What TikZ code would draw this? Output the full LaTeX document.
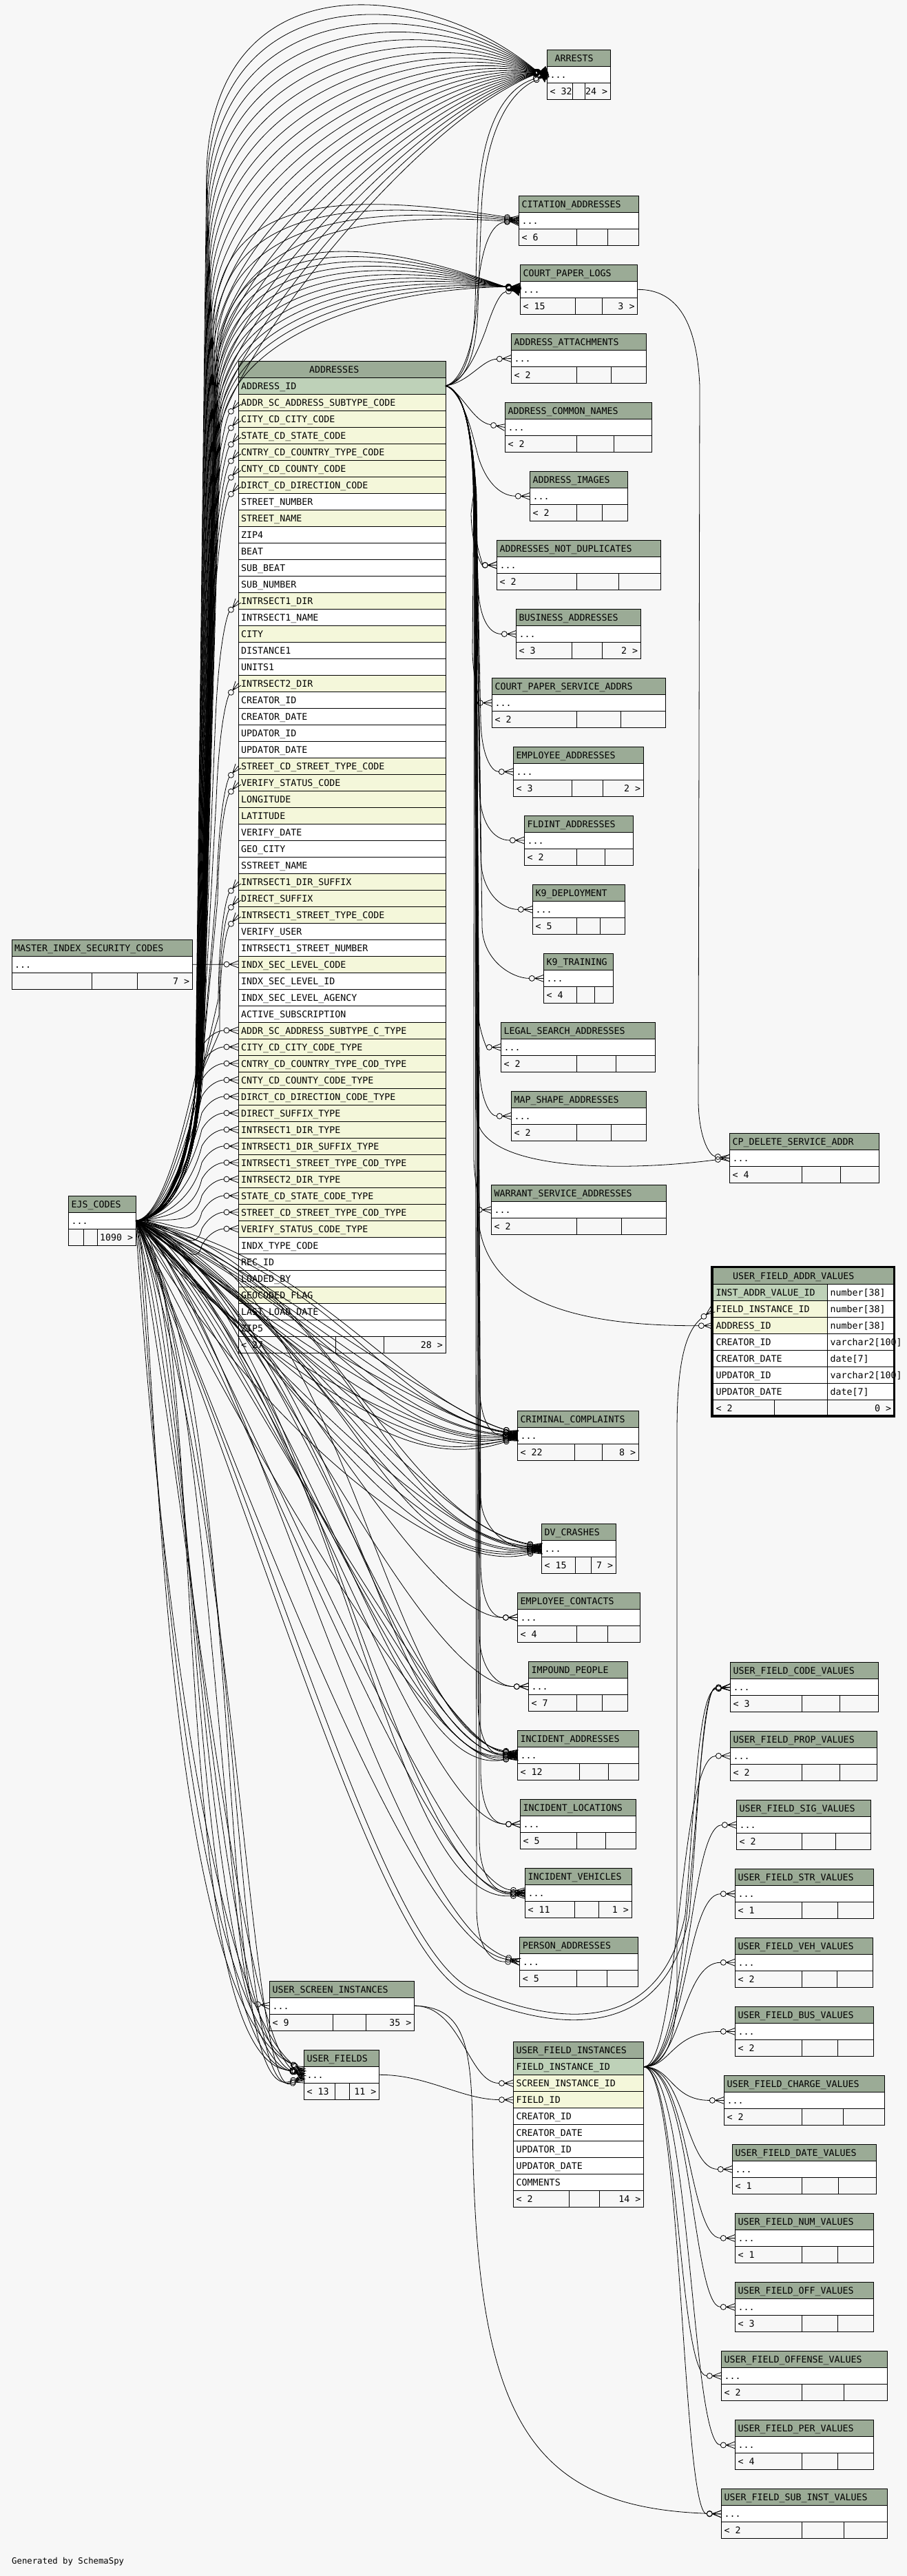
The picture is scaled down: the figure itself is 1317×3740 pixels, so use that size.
\documentclass[tikz,border=0pt]{standalone}
\usepackage{fontspec}
\newfontfamily\dm{DejaVu Sans Mono}
\usetikzlibrary{arrows.meta}
\definecolor{bgc}{HTML}{F7F7F7}
\definecolor{hdr}{HTML}{9BAB96}
\definecolor{pk}{HTML}{BED1B8}
\definecolor{idx}{HTML}{F4F7DA}
\pgfdeclarearrow{
  name = CrowO,
  setup code = {
    \pgfarrowssettipend{0pt}
    \pgfarrowssetlineend{-21pt}
    \pgfarrowssetbackend{-21pt}
    \pgfarrowssetvisualbackend{-21pt}
    \pgfarrowshullpoint{0pt}{5pt}
    \pgfarrowshullpoint{0pt}{-5pt}
    \pgfarrowshullpoint{-21pt}{0pt}
  },
  drawing code = {
    \pgfsetdash{}{0pt}
    \pgfpathmoveto{\pgfqpoint{-13pt}{0pt}}
    \pgfpathlineto{\pgfqpoint{0pt}{5pt}}
    \pgfpathmoveto{\pgfqpoint{-13pt}{0pt}}
    \pgfpathlineto{\pgfqpoint{0pt}{0pt}}
    \pgfpathmoveto{\pgfqpoint{-13pt}{0pt}}
    \pgfpathlineto{\pgfqpoint{0pt}{-5pt}}
    \pgfusepathqstroke
    \pgfpathcircle{\pgfqpoint{-17pt}{0pt}}{4pt}
    \pgfusepathqstroke
  }
}
\tikzset{
  cell/.style={draw=black, line width=1pt, inner sep=0pt, outer sep=0pt, minimum height=24pt, anchor=north west},
  txt/.style={anchor=base west, inner sep=0pt, font=\dm\fontsize{13.3}{16}\selectfont},
  txtr/.style={txt, anchor=base east},
  fk/.style={line width=0.8pt, -{CrowO[]}},
}
% name, left, top, right, div1, div2, title, footer-left, footer-right
\newcommand\mktab[9]{%
  \node[cell, fill=hdr, minimum width={(#4-#2)*1pt}] (#1-h) at (#2,#3) {};
  \node[cell, fill=white, minimum width={(#4-#2)*1pt}] (#1) at (#2,#3+24) {};
  \node[cell, fill=bgc, minimum width={(#5-#2)*1pt}] (#1-fa) at (#2,#3+48) {};
  \node[cell, fill=bgc, minimum width={(#6-#5)*1pt}] (#1-fb) at (#5,#3+48) {};
  \node[cell, fill=bgc, minimum width={(#4-#6)*1pt}] (#1-fc) at (#6,#3+48) {};
  \node[txt] (#1-t) at (#2+4,#3+17) {#7};
  \node[txt] (#1-d) at (#2+4,#3+41) {...};
  \node[txt] (#1-l) at (#2+4,#3+65) {#8};
  \node[txtr] (#1-r) at (#4-4,#3+65) {#9};
}
\begin{document}
\begin{tikzpicture}[x=1pt,y=-1pt]
\useasboundingbox (0,0) rectangle (1317,3740);
\fill[bgc] (0,0) rectangle (1317,3740);

% ---------------- small tables ----------------
\mktab{arrests}{794.3}{72.3}{886.3}{831.7}{849.3}{\hspace*{7pt}ARRESTS}{< 32}{24 >}
\mktab{cit}{753.3}{284.3}{927.7}{837.3}{882.7}{CITATION\_ADDRESSES}{< 6}{}
\mktab{cpl}{755.3}{384.3}{925.7}{835.7}{874.3}{COURT\_PAPER\_LOGS}{< 15}{3 >}
\mktab{att}{742.3}{484.5}{938.3}{837.3}{887.3}{ADDRESS\_ATTACHMENTS}{< 2}{}
\mktab{acn}{733.3}{584.5}{946.3}{837.3}{891.3}{ADDRESS\_COMMON\_NAMES}{< 2}{}
\mktab{aim}{769.3}{684.5}{911.3}{837.3}{874.3}{ADDRESS\_IMAGES}{< 2}{}
\mktab{ndup}{721.3}{784.5}{959.3}{837.3}{898.3}{ADDRESSES\_NOT\_DUPLICATES}{< 2}{}
\mktab{bus}{749.3}{884.5}{930.3}{830.3}{874.3}{BUSINESS\_ADDRESSES}{< 3}{2 >}
\mktab{cpsa}{714.3}{984.5}{966.3}{837.3}{901.3}{COURT\_PAPER\_SERVICE\_ADDRS}{< 2}{}
\mktab{ead}{745.3}{1084.5}{934.3}{830.3}{875.3}{EMPLOYEE\_ADDRESSES}{< 3}{2 >}
\mktab{fld}{761.3}{1184}{919.3}{837.3}{878.7}{FLDINT\_ADDRESSES}{< 2}{}
\mktab{kd}{773.3}{1284.4}{907.3}{837.3}{871.3}{K9\_DEPLOYMENT}{< 5}{}
\mktab{kt}{789.3}{1384.4}{890.3}{837.3}{863.3}{K9\_TRAINING}{< 4}{}
\mktab{lsa}{727.3}{1484.4}{951.3}{837.3}{894.3}{LEGAL\_SEARCH\_ADDRESSES}{< 2}{}
\mktab{msa}{742.3}{1584.4}{938.3}{837.3}{887.3}{MAP\_SHAPE\_ADDRESSES}{< 2}{}
\mktab{wsa}{713.3}{1720.5}{967.3}{837.3}{902.3}{WARRANT\_SERVICE\_ADDRESSES}{< 2}{}
\mktab{cpd}{1059.3}{1645.3}{1276.3}{1164.3}{1220.3}{CP\_DELETE\_SERVICE\_ADDR}{< 4}{}
\mktab{mis}{17}{1364.3}{279.3}{133.3}{199.3}{MASTER\_INDEX\_SECURITY\_CODES}{}{7 >}
\mktab{ejs}{99.3}{1736.3}{197.3}{121.3}{141.3}{EJS\_CODES}{}{1090 >}
\mktab{cc}{751.4}{2048.4}{927.3}{834.3}{874.3}{CRIMINAL\_COMPLAINTS}{< 22}{8 >}
\mktab{dv}{786.5}{2212.3}{894.3}{835.5}{858.8}{DV\_CRASHES}{< 15}{7 >}
\mktab{ec}{751.4}{2312.4}{929.4}{837.6}{882.4}{EMPLOYEE\_CONTACTS}{< 4}{}
\mktab{ip}{767.3}{2412.6}{911}{837.6}{874.3}{IMPOUND\_PEOPLE}{< 7}{}
\mktab{ia}{751.4}{2512.2}{927.3}{841.2}{883.7}{INCIDENT\_ADDRESSES}{< 12}{}
\mktab{il}{755.5}{2612.4}{923.3}{837.6}{879.6}{INCIDENT\_LOCATIONS}{< 5}{}
\mktab{iv}{762.4}{2712.6}{917.1}{834.3}{869.4}{INCIDENT\_VEHICLES}{< 11}{1 >}
\mktab{pa}{754.7}{2812.2}{926.5}{837.5}{881.5}{PERSON\_ADDRESSES}{< 5}{}
\mktab{usi}{391.3}{2876}{601.5}{483.3}{531.3}{USER\_SCREEN\_INSTANCES}{< 9}{35 >}
\mktab{uf}{441.5}{2976.3}{550.5}{486.5}{507.6}{USER\_FIELDS}{< 13}{11 >}
\mktab{vcode}{1060.4}{2413.7}{1275.1}{1164.5}{1219.2}{USER\_FIELD\_CODE\_VALUES}{< 3}{}
\mktab{vprop}{1060.4}{2513.3}{1273}{1164.5}{1219.2}{USER\_FIELD\_PROP\_VALUES}{< 2}{}
\mktab{vsig}{1069.4}{2613.5}{1264.1}{1164.5}{1213.5}{USER\_FIELD\_SIG\_VALUES}{< 2}{}
\mktab{vstr}{1067.3}{2713.6}{1268.2}{1164.5}{1216.3}{USER\_FIELD\_STR\_VALUES}{< 1}{}
\mktab{vveh}{1067.3}{2813.2}{1267.3}{1164.3}{1215.3}{USER\_FIELD\_VEH\_VALUES}{< 2}{}
\mktab{vbus}{1067.3}{2913.4}{1268.3}{1164.3}{1216.7}{USER\_FIELD\_BUS\_VALUES}{< 2}{}
\mktab{vchg}{1051.3}{3013.4}{1284.3}{1164.3}{1224.3}{USER\_FIELD\_CHARGE\_VALUES}{< 2}{}
\mktab{vdate}{1063.3}{3113.4}{1272.3}{1164.3}{1217.7}{USER\_FIELD\_DATE\_VALUES}{< 1}{}
\mktab{vnum}{1067.3}{3213.4}{1268.3}{1164.3}{1216.7}{USER\_FIELD\_NUM\_VALUES}{< 1}{}
\mktab{voff}{1067.3}{3313.4}{1268.3}{1164.3}{1216.7}{USER\_FIELD\_OFF\_VALUES}{< 3}{}
\mktab{vofn}{1047.3}{3413.4}{1288.3}{1164.3}{1225.3}{USER\_FIELD\_OFFENSE\_VALUES}{< 2}{}
\mktab{vper}{1067.3}{3513.9}{1268.3}{1164.3}{1216.7}{USER\_FIELD\_PER\_VALUES}{< 4}{}
\mktab{vsub}{1047.3}{3613.9}{1288.3}{1164.3}{1225.3}{USER\_FIELD\_SUB\_INST\_VALUES}{< 2}{}

% ---------------- ADDRESSES ----------------
\node[cell, fill=hdr, minimum width=301pt] (addr-h) at (346,524) {};
\node[txt] (addr-t) at (449,541) {ADDRESSES};
\foreach \i/\txt/\c in {
 0/ADDRESS\_ID/pk, 1/ADDR\_SC\_ADDRESS\_SUBTYPE\_CODE/idx, 2/CITY\_CD\_CITY\_CODE/idx,
 3/STATE\_CD\_STATE\_CODE/idx, 4/CNTRY\_CD\_COUNTRY\_TYPE\_CODE/idx, 5/CNTY\_CD\_COUNTY\_CODE/idx,
 6/DIRCT\_CD\_DIRECTION\_CODE/idx, 7/STREET\_NUMBER/white, 8/STREET\_NAME/idx, 9/ZIP4/white,
 10/BEAT/white, 11/SUB\_BEAT/white, 12/SUB\_NUMBER/white, 13/INTRSECT1\_DIR/idx,
 14/INTRSECT1\_NAME/white, 15/CITY/idx, 16/DISTANCE1/white, 17/UNITS1/white,
 18/INTRSECT2\_DIR/idx, 19/CREATOR\_ID/white, 20/CREATOR\_DATE/white, 21/UPDATOR\_ID/white,
 22/UPDATOR\_DATE/white, 23/STREET\_CD\_STREET\_TYPE\_CODE/idx, 24/VERIFY\_STATUS\_CODE/idx,
 25/LONGITUDE/idx, 26/LATITUDE/idx, 27/VERIFY\_DATE/white, 28/GEO\_CITY/white,
 29/SSTREET\_NAME/white, 30/INTRSECT1\_DIR\_SUFFIX/idx, 31/DIRECT\_SUFFIX/idx,
 32/INTRSECT1\_STREET\_TYPE\_CODE/idx, 33/VERIFY\_USER/white, 34/INTRSECT1\_STREET\_NUMBER/white,
 35/INDX\_SEC\_LEVEL\_CODE/idx, 36/INDX\_SEC\_LEVEL\_ID/white, 37/INDX\_SEC\_LEVEL\_AGENCY/white,
 38/ACTIVE\_SUBSCRIPTION/white, 39/ADDR\_SC\_ADDRESS\_SUBTYPE\_C\_TYPE/idx,
 40/CITY\_CD\_CITY\_CODE\_TYPE/idx, 41/CNTRY\_CD\_COUNTRY\_TYPE\_COD\_TYPE/idx,
 42/CNTY\_CD\_COUNTY\_CODE\_TYPE/idx, 43/DIRCT\_CD\_DIRECTION\_CODE\_TYPE/idx,
 44/DIRECT\_SUFFIX\_TYPE/idx, 45/INTRSECT1\_DIR\_TYPE/idx, 46/INTRSECT1\_DIR\_SUFFIX\_TYPE/idx,
 47/INTRSECT1\_STREET\_TYPE\_COD\_TYPE/idx, 48/INTRSECT2\_DIR\_TYPE/idx,
 49/STATE\_CD\_STATE\_CODE\_TYPE/idx, 50/STREET\_CD\_STREET\_TYPE\_COD\_TYPE/idx,
 51/VERIFY\_STATUS\_CODE\_TYPE/idx, 52/INDX\_TYPE\_CODE/white, 53/REC\_ID/white,
 54/LOADED\_BY/white, 55/GEOCODED\_FLAG/idx, 56/LAST\_LOAD\_DATE/white, 57/ZIP5/white}{
  \node[cell, fill=\c, minimum width=301pt] (a\i) at (346,548+24*\i) {};
  \node[txt] at (350,565+24*\i) {\txt};
}
\node[cell, fill=bgc, minimum width=141pt] (addr-fa) at (346,1940) {};
\node[cell, fill=bgc, minimum width=70pt] (addr-fb) at (487,1940) {};
\node[cell, fill=bgc, minimum width=90pt] (addr-fc) at (557,1940) {};
\node[txt] (addr-l) at (350,1957) {< 27};
\node[txtr] (addr-r) at (643,1957) {28 >};

% ---------------- USER_FIELD_INSTANCES ----------------
\node[cell, fill=hdr, minimum width=189pt] (ufi-h) at (745.5,2964.7) {};
\node[txt] (ufi-t) at (749.5,2981.7) {USER\_FIELD\_INSTANCES};
\foreach \i/\txt/\c in {0/FIELD\_INSTANCE\_ID/pk, 1/SCREEN\_INSTANCE\_ID/idx, 2/FIELD\_ID/idx,
  3/CREATOR\_ID/white, 4/CREATOR\_DATE/white, 5/UPDATOR\_ID/white, 6/UPDATOR\_DATE/white, 7/COMMENTS/white}{
  \node[cell, fill=\c, minimum width=189pt] (ufi\i) at (745.5,2988.7+24*\i) {};
  \node[txt] at (749.5,3005.7+24*\i) {\txt};
}
\node[cell, fill=bgc, minimum width=81pt] (ufi-fa) at (745.5,3180.7) {};
\node[cell, fill=bgc, minimum width=44.4pt] (ufi-fb) at (826.5,3180.7) {};
\node[cell, fill=bgc, minimum width=63.6pt] (ufi-fc) at (870.9,3180.7) {};
\node[txt] (ufi-l) at (749.5,3197.7) {< 2};
\node[txtr] (ufi-r) at (930.5,3197.7) {14 >};

% ---------------- USER_FIELD_ADDR_VALUES ----------------
\node[cell, fill=hdr, minimum width=263pt] (ufav-h) at (1035.3,1840.7) {};
\node[txt] (ufav-t) at (1064,1857.7) {USER\_FIELD\_ADDR\_VALUES};
\foreach \i/\txt/\ty/\c in {0/INST\_ADDR\_VALUE\_ID/number[38]/pk, 1/FIELD\_INSTANCE\_ID/number[38]/idx,
  2/ADDRESS\_ID/number[38]/idx, 3/CREATOR\_ID/varchar2[100]/white, 4/CREATOR\_DATE/date[7]/white,
  5/UPDATOR\_ID/varchar2[100]/white, 6/UPDATOR\_DATE/date[7]/white}{
  \node[cell, fill=\c, minimum width=166pt] (ufav\i) at (1035.3,1864.7+24*\i) {};
  \node[cell, fill=white, minimum width=97pt] (ufavt\i) at (1201.3,1864.7+24*\i) {};
  \node[txt] at (1039.3,1881.7+24*\i) {\txt};
  \node[txt] at (1205.3,1881.7+24*\i) {\ty};
}
\node[cell, fill=bgc, minimum width=89pt] (ufav-fa) at (1035.3,2032.7) {};
\node[cell, fill=bgc, minimum width=77pt] (ufav-fb) at (1124.3,2032.7) {};
\node[cell, fill=bgc, minimum width=97pt] (ufav-fc) at (1201.3,2032.7) {};
\node[txt] (ufav-l) at (1039.3,2049.7) {< 2};
\node[txtr] (ufav-r) at (1294.3,2049.7) {0 >};
\draw[line width=3.5pt] (1033.4,1839.7) rectangle (1298.6,2055.8);

\node[txt, font=\dm\fontsize{12.3}{14}\selectfont] (gen) at (17,3722) {Generated by SchemaSpy};

% ================= CONNECTORS =================
% EJS_CODES -> ARRESTS (arcs over the top)
\foreach \k in {0,...,21}{
  \pgfmathsetmacro\tq{\k/21}
  \pgfmathsetmacro\ex{240+25*\tq}
  \pgfmathsetmacro\ey{1700-120*\tq}
  \pgfmathsetmacro\tx{284+8*\tq}
  \pgfmathsetmacro\ty{1560-60*\tq}
  \pgfmathsetmacro\ux{\tx-4}
  \pgfmathsetmacro\sx{300+14*\tq}
  \pgfmathsetmacro\sy{245+395*\tq}
  \pgfmathsetmacro\ax{312+20*\tq}
  \pgfmathsetmacro\ay{-60+580*\tq}
  \pgfmathsetmacro\bx{620-20*\tq}
  \pgfmathsetmacro\by{-30+210*\tq}
  \pgfmathsetmacro\sh{(\k-10.5)*0.7}
  \draw[fk] (ejs.east) .. controls (\ex,1770) and (\ux,\ey) .. (\tx,\ty) -- (\sx,\sy) .. controls (\ax,\ay) and (\bx,\by) .. ([yshift=\sh pt]arrests.west);
}
% EJS_CODES -> CITATION_ADDRESSES
\foreach \k in {0,...,3}{
  \pgfmathsetmacro\tq{\k/3}
  \pgfmathsetmacro\tx{290+6*\tq}
  \pgfmathsetmacro\sx{310+6*\tq}
  \pgfmathsetmacro\sy{470+60*\tq}
  \pgfmathsetmacro\ax{318+6*\tq}
  \pgfmathsetmacro\ay{290+60*\tq}
  \pgfmathsetmacro\bx{480+30*\tq}
  \pgfmathsetmacro\by{275+30*\tq}
  \pgfmathsetmacro\sh{(1.5-\k)*1.5}
  \draw[fk] (ejs.east) .. controls (248,1768) and (286,1690) .. (\tx,1545) -- (\sx,\sy) .. controls (\ax,\ay) and (\bx,\by) .. ([yshift=\sh pt]cit.west);
}
% EJS_CODES -> COURT_PAPER_LOGS
\foreach \k in {0,...,11}{
  \pgfmathsetmacro\tq{\k/11}
  \pgfmathsetmacro\tx{288+6*\tq}
  \pgfmathsetmacro\sx{312+8*\tq}
  \pgfmathsetmacro\sy{540+90*\tq}
  \pgfmathsetmacro\ax{325+5*\tq}
  \pgfmathsetmacro\ay{340+150*\tq}
  \pgfmathsetmacro\bx{500+40*\tq}
  \pgfmathsetmacro\by{330+90*\tq}
  \pgfmathsetmacro\sh{(\k-5.5)*0.8}
  \draw[fk] (ejs.east) .. controls (246,1768) and (284,1700) .. (\tx,1550) -- (\sx,\sy) .. controls (\ax,\ay) and (\bx,\by) .. ([yshift=\sh pt]cpl.west);
}
% EJS_CODES -> ADDRESSES code columns (upper group)
\foreach \i [count=\n] in {1,2,3,4,5,6,13,18,23,24,30,31,32}{
  \pgfmathsetmacro\Y{560+24*\i}
  \pgfmathsetmacro\xa{306+\n}
  \pgfmathsetmacro\ya{\Y+170}
  \pgfmathsetmacro\yb{\Y+60}
  \pgfmathsetmacro\yc{\Y+20}
  \draw[fk] (ejs.east) .. controls (250,1768) and (286,1700) .. (292,1560) -- (\xa,\ya) .. controls (318,\yb) and (330,\yc) .. (a\i.west);
}
% EJS_CODES -> ADDRESSES *_TYPE columns
\foreach \i in {39,...,51}{
  \pgfmathsetmacro\Y{560+24*\i}
  \pgfmathsetmacro\ya{\Y+70}
  \pgfmathsetmacro\yb{\Y+24}
  \pgfmathsetmacro\yc{\Y+6}
  \draw[fk] (ejs.east) .. controls (245,1768) and (282,\ya) .. (293,\yb) .. controls (303,\yc) and (318,\Y) .. (a\i.west);
}
% MASTER_INDEX_SECURITY_CODES -> ADDRESSES
\draw[fk] (mis.east) -- (a35.west);

% EJS_CODES -> tables below (spread fans)
\foreach \T/\n/\s/\Y/\o in {cc/14/60/2084.4/3, dv/10/48/2248.3/11, ia/9/38/2548.2/23, iv/4/14/2748.6/41}{
  \foreach \k in {1,...,\n}{
    \pgfmathsetmacro\tq{(\k-1)/(\n-1)}
    \pgfmathsetmacro\rr{mod(\k*61+\o,100)/100}
    \pgfmathsetmacro\ax{250+300*\rr}
    \pgfmathsetmacro\ay{1772+200*\tq+60*\rr}
    \pgfmathsetmacro\bx{540+90*(1-\rr)}
    \pgfmathsetmacro\by{\Y-\s+2*\s*\tq}
    \pgfmathsetmacro\sh{(0.5-\tq)*6}
    \draw[fk] (ejs.east) .. controls (\ax,\ay) and (\bx,\by) .. ([yshift=\sh pt]\T.west);
  }
}
\foreach \T/\Y in {ec/2348.4, ip/2448.6, il/2648.4}{
  \draw[fk] (ejs.east) .. controls (360,1840) and (600,\Y) .. (\T.west);
}
\draw[fk] (ejs.east) .. controls (350,1900) and (560,2780) .. (pa.west);
\draw[fk] (ejs.east) .. controls (300,1990) and (580,2815) .. (pa.west);
% EJS_CODES -> USER_FIELDS
\foreach \k in {0,...,10}{
  \pgfmathsetmacro\tq{\k/10}
  \pgfmathsetmacro\rr{mod(\k*47+13,100)/100}
  \pgfmathsetmacro\ax{205+170*\rr}
  \pgfmathsetmacro\ay{1800+380*\tq}
  \pgfmathsetmacro\bx{220+140*\tq}
  \pgfmathsetmacro\by{2870+210*\rr}
  \pgfmathsetmacro\sh{(5-\k)*1.4}
  \draw[fk] (ejs.east) .. controls (\ax,\ay) and (\bx,\by) .. ([yshift=\sh pt]uf.west);
}
\draw[fk] (ejs.east) .. controls (300,1900) and (330,2905) .. (usi.west);
% EJS_CODES -> USER_FIELD_CODE_VALUES
\draw[fk] (ejs.east) .. controls (420,2300) and (560,2840) .. (690,2890) .. controls (820,2945) and (960,2950) .. (995,2780) .. controls (1010,2600) and (1015,2455) .. (vcode.west);
\draw[fk] (ejs.east) .. controls (410,2310) and (555,2850) .. (686,2898) .. controls (820,2955) and (968,2958) .. (1001,2780) .. controls (1016,2600) and (1020,2452) .. (vcode.west);

% ADDRESSES.ADDRESS_ID -> children
\draw[fk] (a0.east) .. controls (670,555) and (688,520) .. (690,440) -- (694,300) .. controls (698,180) and (735,128) .. (arrests.west);
\draw[fk] (a0.east) .. controls (672,556) and (692,525) .. (694,445) -- (699,305) .. controls (704,190) and (740,135) .. (arrests.west);
\draw[fk] (a0.east) .. controls (670,555) and (690,500) .. (693,430) .. controls (697,370) and (710,325) .. (cit.west);
\draw[fk] (a0.east) .. controls (672,555) and (690,520) .. (705,480) .. controls (715,450) and (725,425) .. (cpl.west);
\draw[fk] (a0.east) .. controls (680,556) and (700,522) .. (att.west);
\draw[fk] (a0.east) .. controls (672,570) and (686,612) .. (acn.west);
\draw[fk] (a0.east) .. controls (674,570) and (688,640) .. (695,665) .. controls (708,705) and (730,720) .. (aim.west);
\foreach \T/\X/\Y/\dd in {ndup/721.3/820.5/-6, ndup/721.3/820.5/-2, bus/749.3/920.5/4, cpsa/714.3/1020.5/-4,
  ead/745.3/1120.5/8, fld/761.3/1220/6, kd/773.3/1320.4/8, kt/789.3/1420.4/10, lsa/727.3/1520.4/2,
  msa/742.3/1620.4/6, wsa/713.3/1756.5/-2, cc/751.4/2084.4/6, dv/786.5/2248.3/8, ec/751.4/2348.4/8,
  ip/767.3/2448.6/6, ia/751.4/2548.2/4, il/755.5/2648.4/8, iv/762.4/2748.6/6, pa/754.7/2848.2/2}{
  \pgfmathsetmacro\xa{689+0.3*\dd}
  \pgfmathsetmacro\xb{690+\dd}
  \pgfmathsetmacro\xc{691+\dd}
  \pgfmathsetmacro\ya{\Y-75}
  \pgfmathsetmacro\yb{\Y-25}
  \pgfmathsetmacro\cx{max(\X-45,\dd+705)}
  \draw[fk] (a0.east) .. controls (672,566) and (686,620) .. (\xa,720) -- (\xb,\ya) .. controls (\xc,\yb) and (\cx,\Y) .. (\T.west);
}
\draw[fk] (a0.east) .. controls (672,566) and (686,620) .. (688,720) -- (692,1620) .. controls (696,1700) and (900,1702) .. (cpd.west);
\draw[fk] (a0.east) .. controls (672,566) and (686,620) .. (688,720) -- (694,1760) .. controls (698,1900) and (860,1925) .. (ufav2.west);

% COURT_PAPER_LOGS -> CP_DELETE_SERVICE_ADDR
\draw[fk] (cpl.east) .. controls (985,420) and (1012,470) .. (1016,560) -- (1014,1590) .. controls (1013,1650) and (1030,1678) .. (cpd.west);

% USER_FIELD_INSTANCES -> USER_FIELD_ADDR_VALUES
\draw[fk] (ufi0.east) .. controls (962,3000.7) and (983,2970) .. (983,2880) -- (983,2080) .. controls (983,1990) and (992,1935) .. (ufav1.west);
% USER_FIELD_INSTANCES -> value tables
\foreach \T/\Y/\vx in {vcode/2449.7/1008, vprop/2549.3/986, vsig/2649.5/1000, vstr/2749.6/995,
  vveh/2849.2/990, vbus/2949.4/975, vchg/3049.4/975, vdate/3149.4/995, vnum/3249.4/1000,
  voff/3349.4/1005, vofn/3449.4/985, vper/3549.9/1003, vsub/3649.9/990}{
  \draw[fk] (ufi0.east) .. controls (\vx,3000.7) and (\vx,\Y) .. (\T.west);
}
% USER_SCREEN_INSTANCES / USER_FIELDS
\draw[fk] (usi.east) .. controls (670,2912) and (680,3024) .. (ufi1.west);
\draw[fk] (usi.east) .. controls (670,2914) and (684,2960) .. (686,3080) .. controls (690,3500) and (760,3640) .. (vsub.west);
\draw[fk] (uf.east) .. controls (620,3012) and (670,3048) .. (ufi2.west);
\end{tikzpicture}
\end{document}
